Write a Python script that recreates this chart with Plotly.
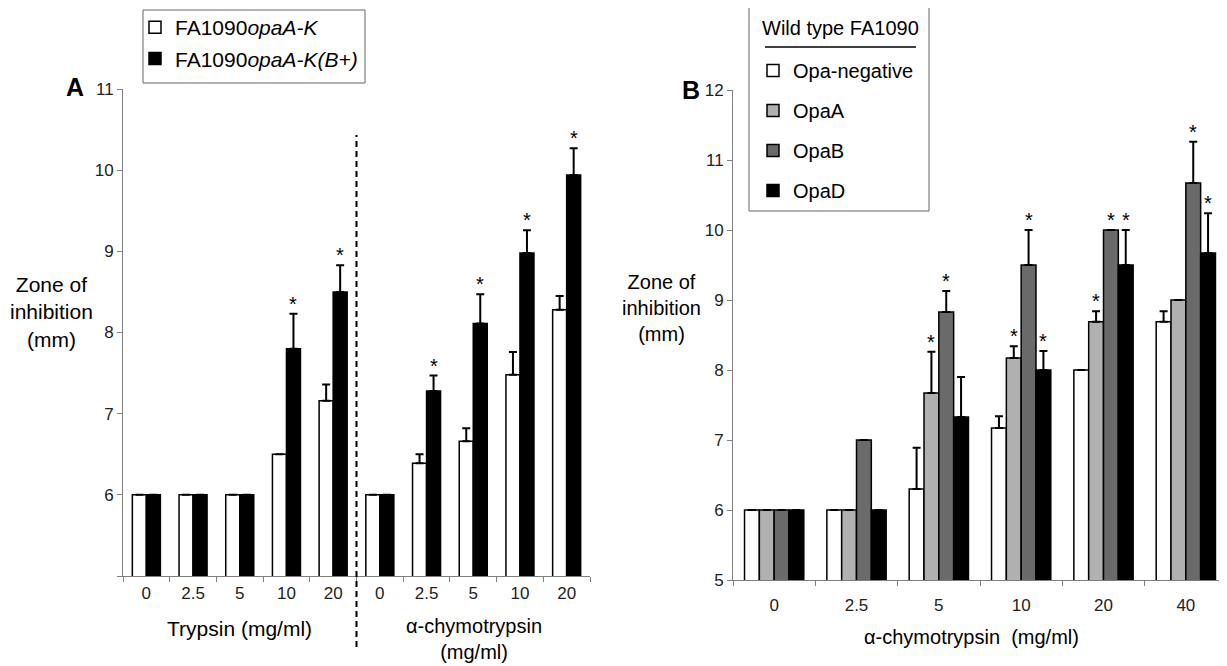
import plotly.graph_objects as go

FONT = "Liberation Sans, Arial, sans-serif"
# The page body has an 8px margin, so the figure is sized to fill the rest of the window.
PAGE_W, PAGE_H, BODY = 1227, 666, 8
W, H = PAGE_W - BODY, PAGE_H - BODY

# ---------------- Panel A data ----------------
a_trypsin_doses = ["0", "2.5", "5", "10", "20"]
a_chymo_doses = ["0", "2.5", "5", "10", "20"]
a_opaAK = [6, 6, 6, 6.5, 7.16, 6, 6.39, 6.66, 7.48, 8.28]
a_opaAK_err = [0, 0, 0, 0, 0.2, 0, 0.11, 0.16, 0.28, 0.17]
a_opaAK_sig = [False] * 10
a_opaAKB = [6, 6, 6, 7.8, 8.5, 6, 7.28, 8.11, 8.98, 9.94]
a_opaAKB_err = [0, 0, 0, 0.43, 0.33, 0, 0.19, 0.36, 0.28, 0.33]
a_opaAKB_sig = [False, False, False, True, True, False, True, True, True, True]

# ---------------- Panel B data ----------------
b_doses = ["0", "2.5", "5", "10", "20", "40"]
b_neg = [6, 6, 6.3, 7.17, 8.0, 8.69]
b_neg_err = [0, 0, 0.59, 0.17, 0, 0.15]
b_neg_sig = [False] * 6
b_opaA = [6, 6, 7.67, 8.17, 8.69, 9.0]
b_opaA_err = [0, 0, 0.59, 0.17, 0.15, 0]
b_opaA_sig = [False, False, True, True, True, False]
b_opaB = [6, 7.0, 8.83, 9.5, 10.0, 10.67]
b_opaB_err = [0, 0, 0.3, 0.5, 0, 0.59]
b_opaB_sig = [False, False, True, True, True, True]
b_opaD = [6, 6, 7.33, 8.0, 9.5, 9.67]
b_opaD_err = [0, 0, 0.57, 0.27, 0.5, 0.57]
b_opaD_sig = [False, False, False, True, True, True]

a_cats = [f"Trypsin {d}" for d in a_trypsin_doses] + [f"Chymo {d}" for d in a_chymo_doses]
a_ticktext = a_trypsin_doses + a_chymo_doses


def px(x):  # page pixel -> paper x
    return (x - BODY) / W


def py(y):  # page pixel (from top) -> paper y
    return 1 - (y - BODY) / H


fig = go.Figure()
annotations = []


def add_series(cats, y, err, sig, name, color, offset, width, legend, xaxis, yaxis):
    fig.add_trace(go.Bar(
        x=cats, y=y, name=name,
        marker=dict(color=color, line=dict(color="black", width=1.5)),
        offset=offset, width=width,
        error_y=dict(type="data", symmetric=False, array=err, arrayminus=[0] * len(err),
                     color="black", thickness=2, width=4),
        legend=legend, legendgroup=name, showlegend=True,
        xaxis=xaxis, yaxis=yaxis,
    ))
    for i, (v, e, s) in enumerate(zip(y, err, sig)):
        if s:
            annotations.append(dict(
                x=i + offset + width / 2, y=v + e, xref=xaxis, yref=yaxis,
                text="*", showarrow=False, xanchor="center", yanchor="bottom", yshift=-3,
                font=dict(size=20, color="black", family=FONT)))


# Panel A series
wA = 0.3
add_series(a_cats, a_opaAK, a_opaAK_err, a_opaAK_sig,
           "FA1090<i>opaA-K</i>", "white", -wA, wA, "legend", "x", "y")
add_series(a_cats, a_opaAKB, a_opaAKB_err, a_opaAKB_sig,
           "FA1090<i>opaA-K(B+)</i>", "black", 0.0, wA, "legend", "x", "y")

# Panel B series
wB = 0.18
b_series = [
    ("Opa-negative", "white", b_neg, b_neg_err, b_neg_sig),
    ("OpaA", "#b0b0b0", b_opaA, b_opaA_err, b_opaA_sig),
    ("OpaB", "#6a6a6a", b_opaB, b_opaB_err, b_opaB_sig),
    ("OpaD", "black", b_opaD, b_opaD_err, b_opaD_sig),
]
for k, (name, color, y, err, sig) in enumerate(b_series):
    add_series(b_doses, y, err, sig, name, color, -2 * wB + k * wB, wB, "legend2", "x2", "y2")

axis_common = dict(showline=True, linecolor="#808080", linewidth=1, ticks="outside",
                   ticklen=5, tickcolor="#808080", showgrid=False, zeroline=False,
                   automargin=False,
                   tickfont=dict(size=17, color="#222", family=FONT))

xA = [px(123), px(590)]
yA = [py(576), py(89)]
xB = [px(733), 1.0]
yB = [py(580), py(90)]

fig.update_layout(
    template="none",
    width=W, height=H, autosize=False,
    margin=dict(l=0, r=0, t=0, b=0, pad=0, autoexpand=False),
    paper_bgcolor="white", plot_bgcolor="white",
    barmode="overlay",
    font=dict(family=FONT, color="black"),
    xaxis=dict(domain=xA, anchor="y", type="category", categoryorder="array",
               categoryarray=a_cats, tickmode="array", tickvals=a_cats, ticktext=a_ticktext,
               tickson="boundaries", range=[-0.5, 9.5], ticklabelstandoff=2, **axis_common),
    yaxis=dict(domain=yA, anchor="x", range=[5, 11], tickmode="array",
               tickvals=[5, 6, 7, 8, 9, 10, 11], ticktext=["", "6", "7", "8", "9", "10", "11"],
               **axis_common),
    xaxis2=dict(domain=xB, anchor="y2", type="category", categoryorder="array",
                categoryarray=b_doses, tickson="boundaries", range=[-0.5, 5.5],
                ticklabelstandoff=10, **axis_common),
    yaxis2=dict(domain=yB, anchor="x2", range=[5, 12], tickmode="array",
                tickvals=[5, 6, 7, 8, 9, 10, 11, 12], **axis_common),
    legend=dict(x=px(135), y=py(7), xanchor="left", yanchor="top",
                borderwidth=0, bgcolor="rgba(0,0,0,0)",
                font=dict(size=21, family=FONT, color="black"), tracegroupgap=1),
    legend2=dict(x=px(753), y=py(51), xanchor="left", yanchor="top",
                 borderwidth=0, bgcolor="rgba(0,0,0,0)",
                 font=dict(size=20, family=FONT, color="black"), tracegroupgap=11),
)


def txt(x, y, text, size=21, bold=False):
    annotations.append(dict(x=px(x), y=py(y), xref="paper", yref="paper",
                            text=f"<b>{text}</b>" if bold else text,
                            xanchor="center", yanchor="middle", align="center",
                            showarrow=False, font=dict(size=size, family=FONT, color="black")))


txt(75, 87, "A", size=25, bold=True)
txt(691, 90, "B", size=25, bold=True)
txt(51, 312, "Zone of<br>inhibition<br>(mm)")
txt(661, 308, "Zone of<br>inhibition<br>(mm)", size=20)
txt(240, 628, "Trypsin (mg/ml)")
txt(474, 639, "α-chymotrypsin<br>(mg/ml)", size=20)
txt(971, 637, "α-chymotrypsin\u00a0 (mg/ml)", size=20)
txt(840, 28, "Wild type FA1090", size=20)

fig.update_layout(annotations=annotations)

# dashed divider between trypsin and chymotrypsin groups
div_x = xA[0] + (len(a_trypsin_doses) / len(a_cats)) * (xA[1] - xA[0])
fig.add_shape(type="line", xref="paper", yref="paper", x0=div_x, x1=div_x,
              y0=py(647), y1=py(135), line=dict(color="black", width=2, dash="6px,4px"))
# legend frames and title underline
fig.add_shape(type="rect", xref="paper", yref="paper", x0=px(143), x1=px(365),
              y0=py(83), y1=py(10), line=dict(color="#666", width=1), layer="below")
fig.add_shape(type="rect", xref="paper", yref="paper", x0=px(749), x1=px(929),
              y0=py(211), y1=py(7), line=dict(color="#666", width=1), layer="below")
fig.add_shape(type="line", xref="paper", yref="paper", x0=px(765), x1=px(916),
              y0=py(47), y1=py(47), line=dict(color="black", width=1.5))

fig.write_html("out.html")
